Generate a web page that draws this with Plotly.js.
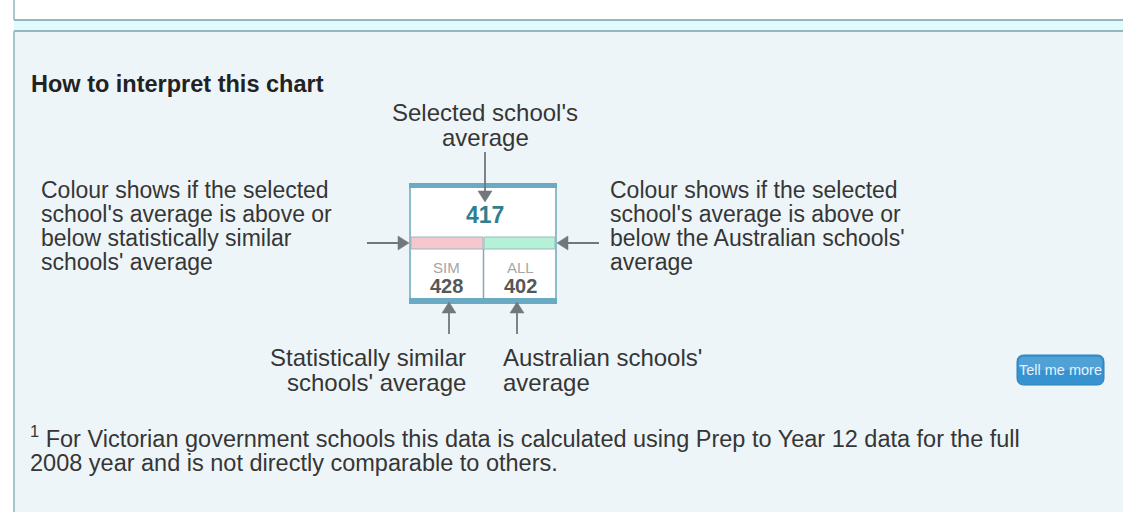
<!DOCTYPE html>
<html><head><meta charset="utf-8">
<script src="https://cdn.plot.ly/plotly-3.0.1.min.js"></script>
<style>html,body{margin:0;padding:0;background:#fff;}#chart{width:1123px;height:512px;}</style>
</head><body><div id="chart"></div>
<script>
// ---- content ----
const heading = 'How to interpret this chart';
const selectedValue = 417;
const cellLabels = ['SIM', 'ALL'];
const cellValues = [428, 402];
const topLabel = ["Selected school's", 'average'];
const leftLabel = ['Colour shows if the selected', "school's average is above or", 'below statistically similar', "schools' average"];
const rightLabel = ['Colour shows if the selected', "school's average is above or", "below the Australian schools'", 'average'];
const simLabel = ['Statistically similar', "schools' average"];
const allLabel = ["Australian schools'", 'average'];
const buttonText = 'Tell me more';
const footnote = ['<sup>1</sup> For Victorian government schools this data is calculated using Prep to Year 12 data for the full', '2008 year and is not directly comparable to others.'];

// ---- style / layout ----
const FONT = 'Liberation Sans, Arial, sans-serif';
const TXT = '#363636';
const ann = [];
function txt(x, y, t, size, opt) {
  ann.push(Object.assign({x: x, y: y, xref: 'x', yref: 'y', text: t, showarrow: false,
    xanchor: 'left', yanchor: 'middle', font: {family: FONT, size: size, color: TXT}}, opt || {}));
}

txt(29, 84, '<b>' + heading + '</b>', 23.5, {font: {family: FONT, size: 23.5, color: '#222'}});
topLabel.forEach((t, i) => txt(485, 112 + i * 25, t, 24, {xanchor: 'center'}));
leftLabel.forEach((t, i) => txt(39, 190 + i * 24, t, 23));
rightLabel.forEach((t, i) => txt(608, 190 + i * 24, t, 23));
simLabel.forEach((t, i) => txt(468, 357 + i * 25, t, 24, {xanchor: 'right'}));
allLabel.forEach((t, i) => txt(501, 357 + i * 25, t, 24));
txt(28, 437, footnote[0], 23.5);
txt(28, 463, footnote[1], 23.5);

// box values
txt(485, 215, '<b>' + selectedValue + '</b>', 23, {xanchor: 'center', font: {family: FONT, size: 23, color: '#2f7f8e'}});
const cellX = [446, 520];
cellLabels.forEach((t, i) => txt(cellX[i], 267, t, 15, {xanchor: 'center', font: {family: FONT, size: 15, color: '#a6a6a6'}}));
cellValues.forEach((v, i) => txt(cellX[i], 286, '<b>' + v + '</b>', 20, {xanchor: 'center', font: {family: FONT, size: 20, color: '#575757'}}));

// button text
txt(1060, 370, buttonText, 14.5, {xanchor: 'center', font: {family: FONT, size: 14.5, color: '#e2f2ff'}});

function rrect(x0, y0, x1, y1, r) {
  return `M${x0 + r},${y0} L${x1 - r},${y0} Q${x1},${y0} ${x1},${y0 + r} L${x1},${y1 - r} Q${x1},${y1} ${x1 - r},${y1} L${x0 + r},${y1} Q${x0},${y1} ${x0},${y1 - r} L${x0},${y0 + r} Q${x0},${y0} ${x0 + r},${y0} Z`;
}
const AC = '#72777b';
// arrow: tail (tx,ty) -> tip (px,py)
function arrowShapes(tx, ty, px, py) {
  const dx = px - tx, dy = py - ty, L = Math.hypot(dx, dy), ux = dx / L, uy = dy / L;
  const hl = 11, hw = 7;
  const bx = px - ux * hl, by = py - uy * hl;
  return [
    {type: 'line', x0: tx, y0: ty, x1: bx + ux * 2, y1: by + uy * 2, line: {color: AC, width: 1.8}},
    {type: 'path', path: `M${px},${py} L${bx - uy * hw},${by + ux * hw} L${bx + uy * hw},${by - ux * hw} Z`, fillcolor: AC, line: {color: AC, width: 0.5}}
  ];
}

const shapes = [
  // frame
  {type: 'line', x0: 14, x1: 14, y0: 0, y1: 20, line: {color: '#a9c9cd', width: 2}},
  {type: 'rect', x0: 14, x1: 1130, y0: 20, y1: 31, fillcolor: '#e1fafc', line: {width: 0}},
  {type: 'line', x0: 14, x1: 1130, y0: 20, y1: 20, line: {color: '#93b8bc', width: 2}},
  {type: 'rect', x0: 14, x1: 1130, y0: 31, y1: 520, fillcolor: '#eef5f8', line: {width: 0}},
  {type: 'line', x0: 14, x1: 1130, y0: 31, y1: 31, line: {color: '#93b8bc', width: 2}},
  {type: 'line', x0: 14, x1: 14, y0: 31, y1: 520, line: {color: '#a3c5ca', width: 2}},
  // box
  {type: 'rect', x0: 410, x1: 556, y0: 184, y1: 303, fillcolor: '#ffffff', line: {color: '#8fbccb', width: 2}},
  {type: 'rect', x0: 409, x1: 557, y0: 183, y1: 188, fillcolor: '#6aaac2', line: {width: 0}},
  {type: 'rect', x0: 409, x1: 557, y0: 298, y1: 304, fillcolor: '#6aaac2', line: {width: 0}},
  {type: 'rect', x0: 411, x1: 483, y0: 237, y1: 249, fillcolor: '#f5c8d0', line: {color: '#9cb7bd', width: 1}},
  {type: 'rect', x0: 484, x1: 555, y0: 237, y1: 249, fillcolor: '#b5f1d7', line: {color: '#9cb7bd', width: 1}},
  {type: 'line', x0: 483.5, x1: 483.5, y0: 249, y1: 298, line: {color: '#8aa7b0', width: 1.5}},
  // button
  {type: 'path', path: rrect(1017, 355, 1104, 385, 7), fillcolor: '#3793d0', line: {color: '#2d7fb8', width: 1}},
  {type: 'path', path: rrect(1019, 357, 1102, 370, 5), fillcolor: 'rgba(255,255,255,0.13)', line: {width: 0}}
].concat(
  arrowShapes(485, 152, 485, 202),
  arrowShapes(367, 243, 409, 243),
  arrowShapes(599, 243, 557, 243),
  arrowShapes(449, 334, 449, 302),
  arrowShapes(517, 334, 517, 302)
);

const layout = {
  width: 1123, height: 512,
  margin: {l: 0, r: 0, t: 0, b: 0},
  paper_bgcolor: '#ffffff', plot_bgcolor: 'rgba(0,0,0,0)',
  xaxis: {range: [0, 1123], visible: false, fixedrange: true},
  yaxis: {range: [512, 0], visible: false, fixedrange: true},
  showlegend: false,
  shapes: shapes,
  annotations: ann
};
Plotly.newPlot('chart', [{x: [0], y: [0], mode: 'markers', marker: {opacity: 0}, hoverinfo: 'skip'}], layout, {staticPlot: true});
</script>
</body></html>
